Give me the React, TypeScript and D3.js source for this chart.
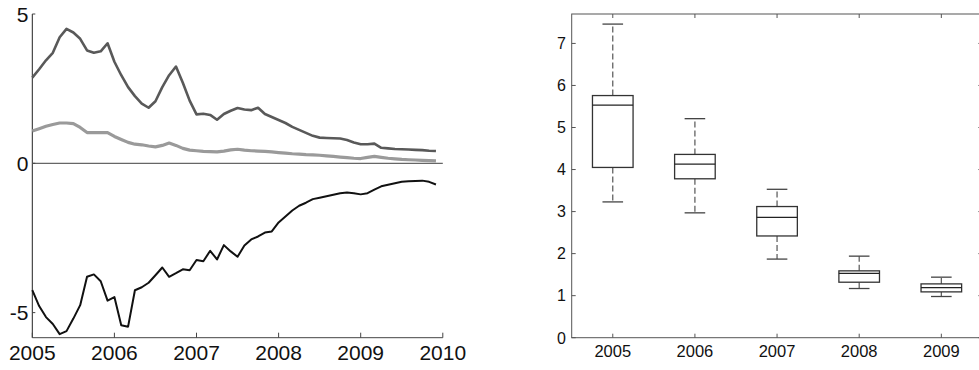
import React from "react";
import * as d3 from "d3";

// ---- Left panel data: monthly values Jan 2005 .. Dec 2009 ----
const startYear = 2005;
const seriesDark = [
  2.87, 3.15, 3.45, 3.7, 4.22, 4.5, 4.38, 4.17, 3.78, 3.7, 3.75, 4.02,
  3.4, 2.95, 2.55, 2.25, 2.0, 1.86, 2.08, 2.55, 2.95, 3.24, 2.7, 2.1,
  1.64, 1.66, 1.62, 1.46, 1.65, 1.76, 1.85, 1.8, 1.78, 1.86, 1.65, 1.55,
  1.45, 1.35, 1.22, 1.12, 1.02, 0.92, 0.86, 0.85, 0.84, 0.83, 0.78, 0.7,
  0.64, 0.64, 0.66, 0.52, 0.5, 0.48, 0.47, 0.46, 0.45, 0.44, 0.42, 0.41,
];
const seriesLight = [
  1.08, 1.16, 1.24, 1.3, 1.35, 1.35, 1.33, 1.2, 1.03, 1.03, 1.03, 1.03,
  0.9, 0.8, 0.7, 0.64, 0.62, 0.58, 0.55, 0.6, 0.68, 0.6, 0.5, 0.44,
  0.42, 0.4, 0.39, 0.38, 0.41, 0.45, 0.47, 0.44, 0.42, 0.41, 0.4, 0.38,
  0.36, 0.34, 0.32, 0.31, 0.29, 0.28, 0.27, 0.25, 0.23, 0.21, 0.19, 0.17,
  0.16, 0.2, 0.23, 0.2, 0.17, 0.15, 0.13, 0.12, 0.11, 0.1, 0.09, 0.08,
];
const seriesBlack = [
  -4.25, -4.78, -5.15, -5.38, -5.72, -5.62, -5.2, -4.75, -3.8, -3.72, -3.95, -4.6,
  -4.48, -5.42, -5.47, -4.25, -4.15, -4.0, -3.75, -3.49, -3.8, -3.68, -3.55, -3.58,
  -3.24, -3.28, -2.93, -3.22, -2.74, -2.95, -3.13, -2.75, -2.55, -2.45, -2.32, -2.28,
  -1.98, -1.78, -1.58, -1.42, -1.32, -1.2, -1.15, -1.1, -1.05, -1.0, -0.98, -1.0,
  -1.04, -1.0, -0.88, -0.77, -0.72, -0.67, -0.62, -0.6, -0.59, -0.58, -0.62, -0.71,
];
const leftXTicks = [2005, 2006, 2007, 2008, 2009, 2010];
const leftYTicks = [-5, 0, 5];

// ---- Right panel data: box plots ----
const boxCategories = ["2005", "2006", "2007", "2008", "2009"];
const whiskerLow = [3.23, 2.97, 1.87, 1.17, 0.98];
const quartile1 = [4.05, 3.78, 2.42, 1.32, 1.09];
const medians = [5.53, 4.13, 2.86, 1.53, 1.19];
const quartile3 = [5.76, 4.36, 3.12, 1.59, 1.28];
const whiskerHigh = [7.46, 5.21, 3.53, 1.94, 1.44];
const rightYTicks = [0, 1, 2, 3, 4, 5, 6, 7];

const FONT = "'Liberation Sans', Arial, sans-serif";

export default function App() {
  // Left panel scales
  const xL = d3.scaleLinear().domain([2005, 2010]).range([32.3, 442.8]);
  const yL = d3.scaleLinear().domain([-5.84, 5]).range([337.7, 14]);
  const months = (arr: number[]) =>
    arr.map((v, i) => ({ t: startYear + i / 12, v }));
  const line = d3
    .line<{ t: number; v: number }>()
    .x((d) => xL(d.t))
    .y((d) => yL(d.v));

  // Right panel scales
  const xR = d3.scaleLinear().domain([0.5, 5.5]).range([571.7, 982.4]);
  const yR = d3.scaleLinear().domain([0, 7.7]).range([337.7, 14]);
  const boxHalf = 20.3;
  const capHalf = 10.3;
  const frame = "#555";

  return (
    <div style={{ position: "absolute", left: 0, top: 0 }}>
      <svg width={979} height={370} style={{ display: "block", background: "#fff" }}>
        {/* ===== Left panel ===== */}
        <g>
          <line x1={xL(2005)} x2={xL(2005)} y1={yL(5)} y2={yL(-5.84)} stroke="#222" strokeWidth={1} />
          <line x1={xL(2005)} x2={xL(2010)} y1={yL(-5.84)} y2={yL(-5.84)} stroke="#444" strokeWidth={1} />
          <line x1={xL(2005)} x2={xL(2010)} y1={yL(0)} y2={yL(0)} stroke="#666" strokeWidth={1.2} />
          {leftXTicks.map((t) => (
            <g key={"lx" + t}>
              <line x1={xL(t)} x2={xL(t)} y1={yL(-5.84)} y2={yL(-5.84) - 5} stroke="#444" />
              <text x={xL(t)} y={360} textAnchor="middle" fontFamily={FONT} fontSize={21} fill="#111">
                {t}
              </text>
            </g>
          ))}
          {leftYTicks.map((t) => (
            <g key={"ly" + t}>
              <line x1={xL(2005)} x2={xL(2005) + 3} y1={yL(t)} y2={yL(t)} stroke="#444" />
              <text x={28.5} y={yL(t) + 7.5} textAnchor="end" fontFamily={FONT} fontSize={21} fill="#111">
                {t}
              </text>
            </g>
          ))}
          <path d={line(months(seriesLight)) || ""} fill="none" stroke="#9a9a9a" strokeWidth={3.2} strokeLinejoin="round" />
          <path d={line(months(seriesDark)) || ""} fill="none" stroke="#595959" strokeWidth={2.6} strokeLinejoin="round" />
          <path d={line(months(seriesBlack)) || ""} fill="none" stroke="#111" strokeWidth={2} strokeLinejoin="round" />
        </g>

        {/* ===== Right panel ===== */}
        <g>
          <rect x={xR(0.5)} y={yR(7.7)} width={xR(5.5) - xR(0.5)} height={yR(0) - yR(7.7)} fill="none" stroke={frame} strokeWidth={1} />
          {rightYTicks.map((t) => (
            <g key={"ry" + t}>
              <line x1={xR(0.5)} x2={xR(0.5) + 4} y1={yR(t)} y2={yR(t)} stroke={frame} />
              <line x1={xR(5.5)} x2={xR(5.5) - 4} y1={yR(t)} y2={yR(t)} stroke={frame} />
              <text x={566} y={yR(t) + 5.8} textAnchor="end" fontFamily={FONT} fontSize={16} fill="#111">
                {t}
              </text>
            </g>
          ))}
          {boxCategories.map((c, i) => {
            const cx = xR(i + 1);
            return (
              <g key={"b" + c}>
                <line x1={cx} x2={cx} y1={yR(0)} y2={yR(0) - 4} stroke={frame} />
                <line x1={cx} x2={cx} y1={yR(7.7)} y2={yR(7.7) + 4} stroke={frame} />
                <text x={cx} y={357} textAnchor="middle" fontFamily={FONT} fontSize={16.5} fill="#111">
                  {c}
                </text>
                {/* whiskers */}
                <line x1={cx} x2={cx} y1={yR(quartile3[i])} y2={yR(whiskerHigh[i])} stroke="#555" strokeWidth={1.2} strokeDasharray="6,3" />
                <line x1={cx} x2={cx} y1={yR(quartile1[i])} y2={yR(whiskerLow[i])} stroke="#555" strokeWidth={1.2} strokeDasharray="6,3" />
                <line x1={cx - capHalf} x2={cx + capHalf} y1={yR(whiskerHigh[i])} y2={yR(whiskerHigh[i])} stroke="#444" strokeWidth={1.3} />
                <line x1={cx - capHalf} x2={cx + capHalf} y1={yR(whiskerLow[i])} y2={yR(whiskerLow[i])} stroke="#444" strokeWidth={1.3} />
                {/* box */}
                <rect x={cx - boxHalf} y={yR(quartile3[i])} width={boxHalf * 2} height={yR(quartile1[i]) - yR(quartile3[i])} fill="#fff" stroke="#333" strokeWidth={1.3} />
                <line x1={cx - boxHalf} x2={cx + boxHalf} y1={yR(medians[i])} y2={yR(medians[i])} stroke="#222" strokeWidth={1.3} />
              </g>
            );
          })}
        </g>
      </svg>
    </div>
  );
}
